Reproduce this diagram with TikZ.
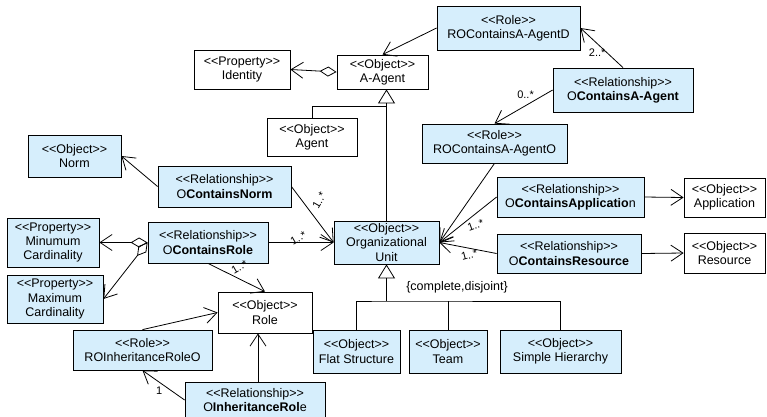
\documentclass[tikz,border=0pt]{standalone}
\usepackage{fontspec}
\setmainfont{Liberation Sans}[Ligatures=TeXOff]
\usetikzlibrary{arrows.meta}
\definecolor{umlfill}{RGB}{214,238,252}

\begin{document}
\begin{tikzpicture}
[ x=1pt, y=-1pt, line width=0.8pt
, umlbox/.style={rectangle, draw, align=center, inner sep=1pt, font=\fontsize{12.5}{14.2}\selectfont}
, objbox/.style={umlbox, fill=white}
, conbox/.style={umlbox, fill=umlfill}
, mult/.style={font=\fontsize{11}{13}\selectfont, inner sep=1pt}
, assoc/.style={-{Straight Barb[length=12pt, width=16pt]}}
, agg/.style={{Diamond[open, length=17pt, width=10pt]}-{Straight Barb[length=12pt, width=16pt]}}
, isa/.style={-{Triangle[open, length=14pt, width=17pt]}}
]
\useasboundingbox (0,0) rectangle (767,416);
% Agent part:
\node (roD) [conbox, minimum width=143pt, minimum height=44pt] at (508.5,28) {<<Role>>\\ROContainsA-AgentD};
\node (identity) [objbox, minimum width=96pt, minimum height=39pt] at (242,69.5) {<<Property>>\\Identity};
\node (aagent) [objbox, minimum width=91pt, minimum height=34pt] at (382.5,72) {<<Object>>\\A-Agent};
\node (agent) [objbox, minimum width=90pt, minimum height=38pt] at (312,137) {<<Object>>\\Agent};
\node (relAA) [conbox, minimum width=140pt, minimum height=44pt] at (623,90) {<<Relationship>>\\O\textbf{ContainsA-Agent}};
\node (roO) [conbox, minimum width=145pt, minimum height=39pt] at (494.5,143.5) {<<Role>>\\ROContainsA-AgentO};
% Organizational unit part:
\node (norm) [conbox, minimum width=93pt, minimum height=42pt] at (74.5,156) {<<Object>>\\Norm};
\node (relNorm) [conbox, minimum width=133pt, minimum height=41pt] at (224.5,186.5) {<<Relationship>>\\O\textbf{ContainsNorm}};
\node (minCard) [conbox, minimum width=92pt, minimum height=49pt] at (53,242.5) {<<Property>>\\Minumum\\Cardinality};
\node (relRole) [conbox, minimum width=120pt, minimum height=41pt] at (208,242.5) {<<Relationship>>\\O\textbf{ContainsRole}};
\node (ou) [conbox, minimum width=105pt, minimum height=43pt] at (386.5,242.5) {<<Object>>\\Organizational\\Unit};
\node (relApp) [conbox, minimum width=147pt, minimum height=40pt] at (570.5,197) {<<Relationship>>\\O\textbf{ContainsApplicatio}n};
\node (app) [objbox, minimum width=81pt, minimum height=39pt] at (724.5,197.5) {<<Object>>\\Application};
\node (relRes) [conbox, minimum width=144pt, minimum height=39pt] at (569,253.5) {<<Relationship>>\\O\textbf{ContainsResource}};
\node (res) [objbox, minimum width=81pt, minimum height=40pt] at (724.5,253) {<<Object>>\\Resource};
\node (flat) [conbox, minimum width=87pt, minimum height=43pt] at (356.5,351.5) {<<Object>>\\Flat Structure};
\node (team) [conbox, minimum width=78pt, minimum height=43pt] at (448,351.5) {<<Object>>\\Team};
\node (simple) [conbox, minimum width=121pt, minimum height=43pt] at (560.5,351.5) {<<Object>>\\Simple Hierarchy};
\node (constr) [umlbox, draw=none] at (457,287) {\{complete,disjoint\}};
% Role part:
\node (maxCard) [conbox, minimum width=96pt, minimum height=48pt] at (55,299) {<<Property>>\\Maximum\\Cardinality};
\node (role) [objbox, minimum width=94pt, minimum height=41pt] at (265,312.5) {<<Object>>\\Role};
\node (roInh) [conbox, minimum width=139pt, minimum height=40pt] at (142.5,350) {<<Role>>\\ROInheritanceRoleO};
\node (relInh) [conbox, minimum width=140pt, minimum height=36pt] at (255,400) {<<Relationship>>\\O\textbf{InheritanceRol}e};
\coordinate (genA) at (386.5,106);
\coordinate (genB) at (386.5,301);

% Generalizations:
\draw [isa] (ou.north) -- (ou.north |- aagent.south);
\draw (agent.north) |- (genA);
\draw [isa] (genB) -- (ou.south);
\draw (flat.north) |- (genB) -| (simple.north);
\draw (team.north) -- (team.north |- genB);
% Associations:
\draw [agg] (aagent.west) -- (identity.east);
\draw [assoc] (roD.west) -- (aagent.north);
\draw [assoc] (relAA.north) -- (roD.east) node [mult, pos=0.38, left] {2..*};
\draw [assoc] (relAA.west) -- (roO.north) node [mult, pos=0.3, above left] {0..*};
\draw [assoc] (roO.south) -- (ou.east);
\draw [assoc] (relApp.west) -- (ou.east) node [mult, pos=0.4, below=5pt, rotate=20] {1..*};
\draw [assoc] (relRes.west) -- (ou.east) node [mult, pos=0.5, below=2pt, rotate=15] {1..*};
\draw [assoc] (relApp.east) -- (app.west);
\draw [assoc] (relRes.east) -- (res.west);
\draw [assoc] (relNorm.west) -- (norm.east);
\draw [assoc] (relNorm.east) -- (ou.west) node [mult, pos=0.4, right=6pt, rotate=60] {1..*};
\draw [assoc] (relRole.east) -- (ou.west) node [mult, pos=0.5, above, rotate=30] {1..*};
\draw [assoc] (relRole.south) -- (role.north) node [mult, pos=0.45, above right, rotate=30] {1..*};
\draw [agg] (relRole.west) -- (minCard.east);
\draw [agg] (relRole.west) -- (maxCard.east);
\draw [assoc] (roInh.north) -- (role.west);
\draw [assoc] ([xshift=3pt]relInh.north) -- ([xshift=-7pt]role.south);
\draw [assoc] (relInh.west) -- (roInh.south) node [mult, pos=0.5, below left] {1};
\end{tikzpicture}
\end{document}
